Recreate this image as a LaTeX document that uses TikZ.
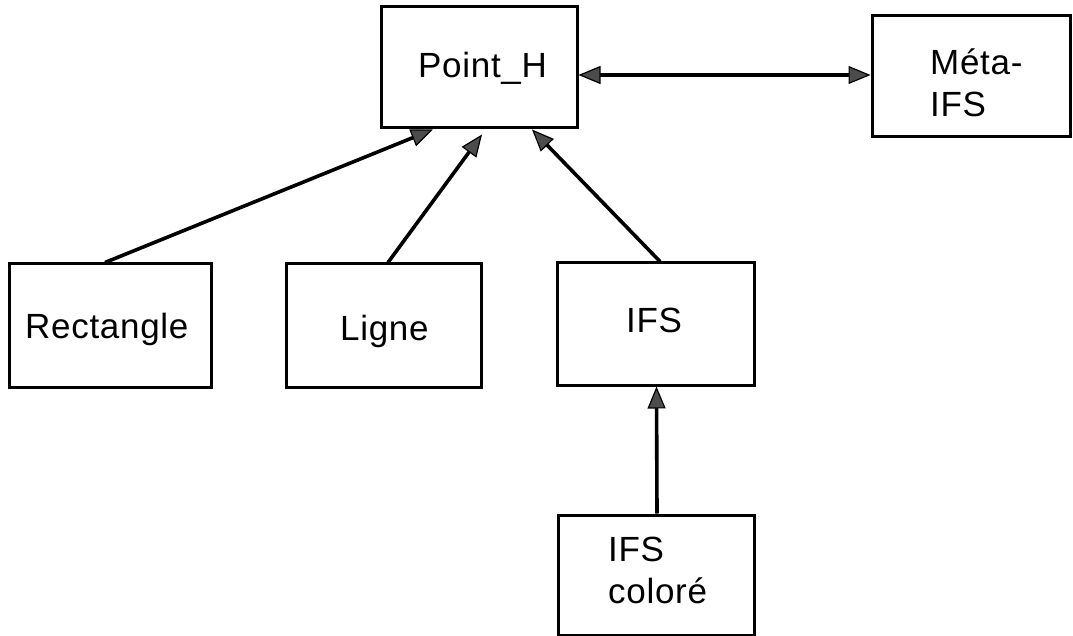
\documentclass[tikz,border=0pt]{standalone}
\usepackage{fontspec}
\setmainfont[LetterSpace=2]{Liberation Sans}
\usetikzlibrary{arrows.meta}
\begin{document}
\begin{tikzpicture}[x=1pt,y=-1pt,
  >={Triangle[length=22pt,width=18pt,fill=black!70,line width=1.2pt]},
  classbox/.style={draw=black,line width=3pt,fill=none,inner sep=0pt},
  lbl/.style={inner sep=0pt,anchor=base west,font=\fontsize{35}{42}\selectfont,align=left},
  link/.style={line width=3.6pt,draw=black},
]
\useasboundingbox (0,0) rectangle (1073,636);

% class boxes
\node[classbox,minimum width=196pt,minimum height=121pt] (point) at (479,67.5) {};
\node[classbox,minimum width=198pt,minimum height=121pt] (meta) at (971,76.5) {};
\node[classbox,minimum width=202pt,minimum height=123pt] (rect) at (110,325.5) {};
\node[classbox,minimum width=195pt,minimum height=123pt] (ligne) at (383.5,325.5) {};
\node[classbox,minimum width=197pt,minimum height=122pt] (ifs) at (655.5,324) {};
\node[classbox,minimum width=196pt,minimum height=120pt] (ifsc) at (656,575) {};

% class names (multi-line labels are anchored on their last baseline)
\node[lbl] (tpoint) at (418,78) {Point\_H};
\node[lbl] (tmeta) at (930,117) {Méta-\\IFS};
\node[lbl] (trect) at (25,338) {Rectangle};
\node[lbl] (tligne) at (340,340) {Ligne};
\node[lbl] (tifs) at (626,332) {IFS};
\node[lbl] (tifsc) at (608,603) {IFS\\coloré};

% association between Point_H and Méta-IFS
\draw[link,<->] ([yshift=-7.5pt]point.east) -- ([yshift=1.5pt]meta.west);

% inheritance links
\draw[link,->] ([xshift=-5pt]rect.north) -- ([xshift=-46pt]point.south);
\draw[link,->] ([xshift=4.5pt]ligne.north) -- ([xshift=3pt,yshift=-5pt]point.south);
\draw[link,->] ([xshift=4.5pt]ifs.north) -- ([xshift=53pt]point.south);
\draw[link,->] ([xshift=1pt]ifsc.north) -- ([xshift=1pt]ifs.south);
\end{tikzpicture}
\end{document}
